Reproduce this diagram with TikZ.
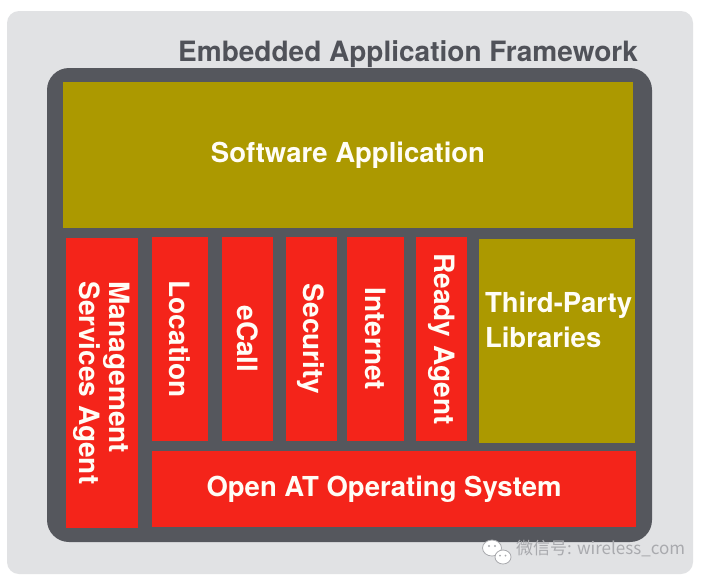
\documentclass[tikz,border=0pt]{standalone}
\usepackage{fontspec}
\setmainfont{TeX Gyre Heros}
\newfontfamily\cjk{Noto Sans CJK SC}
\definecolor{lightbg}{HTML}{E1E2E4}
\definecolor{framegray}{HTML}{55575D}
\definecolor{olive}{HTML}{AC9900}
\definecolor{boxred}{HTML}{F4241A}
\definecolor{titlegray}{HTML}{505259}
\definecolor{txtwhite}{HTML}{FFFDF6}
\definecolor{wmgray}{HTML}{A9AAAE}
\begin{document}
\begin{tikzpicture}[x=1pt,y=-1pt,
  blk/.style={inner sep=0pt, outer sep=0pt, text=txtwhite,
    font=\bfseries\fontsize{27.5}{30}\selectfont},
  redbox/.style={blk, fill=boxred},
  olivebox/.style={blk, fill=olive},
  vbox/.style={redbox, rotate=-90, font=\bfseries\fontsize{28}{30}\selectfont}]
\useasboundingbox (0,0) rectangle (708,582);
\fill[white] (0,0) rectangle (708,582);
% outer panel and frame
\fill[lightbg, rounded corners=12pt] (7,11) rectangle (693,574);
\node[anchor=base east, inner sep=0pt, text=titlegray,
  font=\bfseries\fontsize{28}{30}\selectfont] (title) at (638,61) {Embedded Application Framework};
\fill[framegray, rounded corners=22pt] (47,68) rectangle (652,542);
% blocks
\node[olivebox, minimum width=570pt, minimum height=146pt] (sw) at (348,155) {Software Application};
\node[vbox, minimum width=290pt, minimum height=72pt, align=left] (mgmt) at (102,383) {Management\\Services Agent};
\node[vbox, minimum width=204pt, minimum height=56pt] (loc) at (180,339) {Location};
\node[vbox, minimum width=204pt, minimum height=51pt] (ecall) at (247.5,339) {eCall};
\node[vbox, minimum width=204pt, minimum height=51pt] (sec) at (311,339) {Security};
\node[vbox, minimum width=204pt, minimum height=57pt] (inet) at (375.5,339) {Internet};
\node[vbox, minimum width=204pt, minimum height=51pt] (ready) at (441.5,339) {Ready Agent};
\node[olivebox, minimum width=156pt, minimum height=204pt] (tpl) at (557,341) {};
\node[blk, anchor=north west, align=left, font=\bfseries\fontsize{27.5}{35}\selectfont] (tpltext) at (485,292.5) {Third-Party\\Libraries};
\node[redbox, minimum width=484pt, minimum height=76pt] (os) at (394,489) {};
\node[blk] (ostext) at (384,489) {Open AT Operating System};
% watermark
\filldraw[fill=white, draw=wmgray, line width=0.8pt] (492,548) ellipse [x radius=9.5pt, y radius=8pt];
\filldraw[fill=white, draw=wmgray, line width=0.8pt] (503,557) ellipse [x radius=8pt, y radius=7pt];
\fill[wmgray] (489,546) circle (1.2pt) (495,546) circle (1.2pt) (500,555.5) circle (1pt) (505.5,555.5) circle (1pt);
\node[anchor=west, inner sep=0pt, text=wmgray, font=\cjk\fontsize{17}{20}\selectfont] (wm) at (516,549) {微信号: wireless\_com};
\end{tikzpicture}
\end{document}
